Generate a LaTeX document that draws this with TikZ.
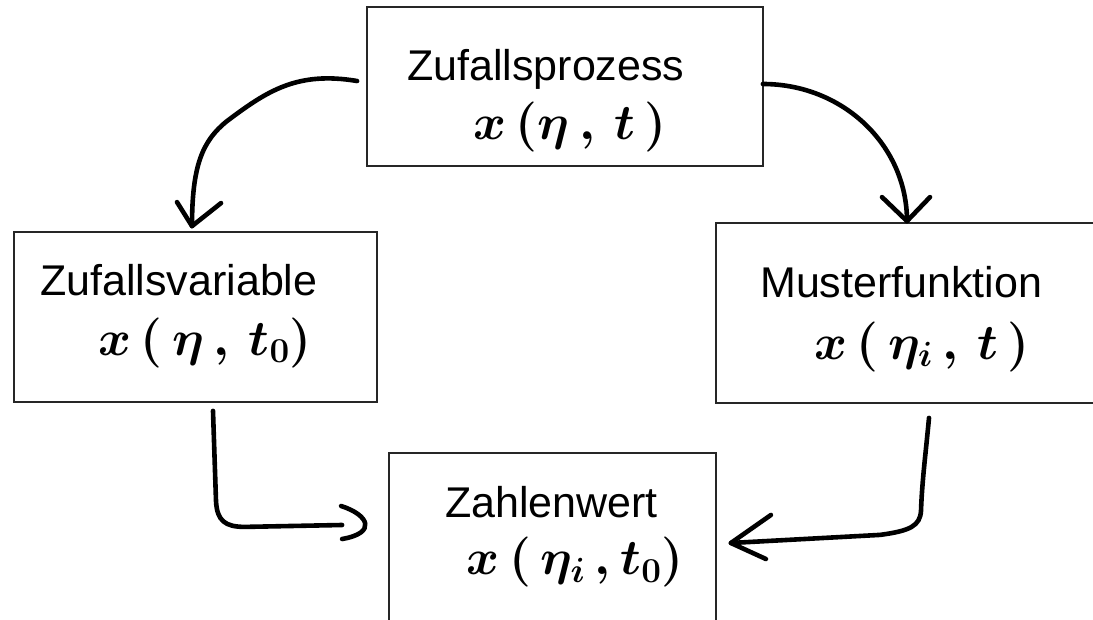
\RequirePackage{fix-cm}
\documentclass[tikz,border=0pt]{standalone}
\usepackage{fontspec}
\setmainfont{Liberation Sans}
\usetikzlibrary{calc}
\begin{document}
\begin{tikzpicture}[x=1pt,y=-1pt,
  box/.style={draw=black!85,line width=1.8pt,inner sep=0pt,minimum width=#1},
  lbl/.style={inner sep=0pt,anchor=base west,font=\fontsize{43}{50}\selectfont},
  hand/.style={inner sep=0pt,font=\fontsize{50}{50}\selectfont\boldmath},
  pen/.style={line width=4.6pt,line cap=round,line join=round,black}]
\useasboundingbox (0,0) rectangle (1093,620);
% boxes
\node[box=396pt,minimum height=159pt] (pz) at (565,86.5) {};
\node[box=363pt,minimum height=170pt] (zv) at (195.5,317) {};
\node[box=384pt,minimum height=180pt] (mf) at (908,313) {};
\node[box=327pt,minimum height=187pt] (zw) at (552.5,546.5) {};
% titles
\node[lbl] (pzt) at (407,81) {Zufallsprozess};
\node[lbl] (zvt) at (40,296) {Zufallsvariable};
\node[lbl] (mft) at (760,298) {Musterfunktion};
\node[lbl] (zwt) at (445,517) {Zahlenwert};
% formulas
\node[hand] (pzf) at (570,127) {$x\,(\eta\,,\,t\,)$};
\node[hand] (zvf) at (205,343) {$x\,(\,\eta\,,\,t_0)$};
\node[hand] (mff) at (922,347) {$x\,(\,\eta_i\,,\,t\,)$};
\node[hand] (zwf) at (575,562) {$x\,(\,\eta_i\,,t_0)$};
% connector ends
\coordinate (a1s) at ($(pz.west)+(-9,-5.5)$);
\coordinate (a1e) at ($(zv.north)+(-3.5,-5)$);
\coordinate (a2s) at ($(pz.east)+(-1,-2.5)$);
\coordinate (a2e) at ($(mf.north)+(-1,-1)$);
\coordinate (a3s) at ($(zv.south)+(17.5,8)$);
\coordinate (a3e) at ($(zw.west)+(-22,-19.5)$);
\coordinate (a4s) at ($(mf.south)+(21,14)$);
\coordinate (a4e) at ($(zw.east)+(14,-3.5)$);
% Zufallsprozess -> Zufallsvariable
\draw[pen] (a1s) .. controls ($(a1s)+(-60,-10)$) and ($(a1s)+(-90,10)$) .. ($(a1s)+(-130,40)$) .. controls ($(a1s)+(-155,60)$) and ($(a1e)+(0,-60)$) .. (a1e);
\draw[pen] ($(a1e)+(-15,-24)$) -- (a1e) -- ($(a1e)+(29,-23)$);
% Zufallsprozess -> Musterfunktion
\draw[pen] (a2s) .. controls ($(a2s)+(80,0)$) and ($(a2e)+(0,-76)$) .. (a2e);
\draw[pen] ($(a2e)+(-25,-24)$) -- (a2e) -- ($(a2e)+(23,-24)$);
% Zufallsvariable -> Zahlenwert
\draw[pen] (a3s) -- ($(a3s)+(3,90)$) .. controls ($(a3s)+(4,110)$) and ($(a3s)+(12,116)$) .. ($(a3s)+(32,116)$) -- ($(a3e)+(-24,-2)$);
\draw[pen] ($(a3e)+(-25,-21)$) .. controls ($(a3e)+(3,-12)$) and ($(a3e)+(11,6)$) .. ($(a3e)+(-24,12)$);
% Musterfunktion -> Zahlenwert
\draw[pen] (a4s) .. controls ($(a4s)+(-3,33)$) and ($(a4s)+(-7,63)$) .. ($(a4s)+(-8,93)$) .. controls ($(a4s)+(-9,108)$) and ($(a4s)+(-19,113)$) .. ($(a4s)+(-49,117)$) -- (a4e);
\draw[pen] ($(a4e)+(40,-28)$) -- (a4e) -- ($(a4e)+(35,16)$);
\end{tikzpicture}
\end{document}
